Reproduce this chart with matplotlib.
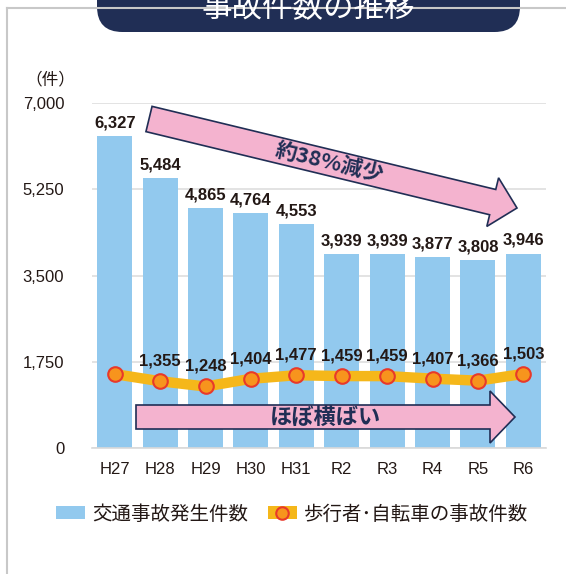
"""
事故件数の推移 — 交通事故発生件数（棒）と歩行者・自転車の事故件数（折れ線）。
出力: out.png
"""

import matplotlib

matplotlib.use("Agg")
import matplotlib.pyplot as plt
import numpy as np
from matplotlib.lines import Line2D
from matplotlib.patches import FancyBboxPatch, Patch, Polygon

plt.rcParams["font.family"] = ["Liberation Sans", "Noto Sans CJK JP", "DejaVu Sans"]

# データ
years = ["H27", "H28", "H29", "H30", "H31", "R2", "R3", "R4", "R5", "R6"]
total_accidents = [6327, 5484, 4865, 4764, 4553, 3939, 3939, 3877, 3808, 3946]
ped_bike_accidents = [1499, 1355, 1248, 1404, 1477, 1459, 1459, 1407, 1366, 1503]
y_ticks = [0, 1750, 3500, 5250, 7000]

W, H = 566, 574
TEXT = "#231815"
NAVY = "#202e55"
BAR = "#92C9EE"
PINK = "#F4B3CF"
JP = ["Noto Sans CJK JP", "DejaVu Sans"]


def px(x, y):
    """ピクセル座標（左上原点）→ figure 座標"""
    return x / W, 1 - y / H


def arrow_poly(tail, tip, half_shaft, half_head, head_len):
    tail, tip = np.array(tail, float), np.array(tip, float)
    d = tip - tail
    d /= np.hypot(*d)
    n = np.array([-d[1], d[0]])
    base = tip - d * head_len
    pts = [tail + n * half_shaft, base + n * half_shaft, base + n * half_head, tip,
           base - n * half_head, base - n * half_shaft, tail - n * half_shaft]
    return [px(*p) for p in pts]


fig = plt.figure(figsize=(W / 100, H / 100), dpi=100)

# 外枠（左・上のみ見える）
fig.add_artist(Line2D([6.5 / W, 6.5 / W], [0, 1 - 8 / H], color="#c8c8c8", lw=1.5,
                      transform=fig.transFigure))
fig.add_artist(Line2D([6.5 / W, 1], [1 - 8 / H, 1 - 8 / H], color="#c8c8c8", lw=1.5,
                      transform=fig.transFigure))

# タイトル帯（上端は切れている）
x0, y0 = px(97, 32)
fig.add_artist(FancyBboxPatch((x0, y0), (520 - 97) / W, 70 / H,
                              boxstyle="round,pad=0,rounding_size=0.045",
                              transform=fig.transFigure, fc=NAVY, ec="none",
                              mutation_aspect=W / H))
fig.text(*px(308, 8), "事故件数の推移", color="white", fontsize=22, family=JP,
         ha="center", va="center")

ax = fig.add_axes([92 / W, 1 - 448 / H, (546 - 92) / W, (448 - 103) / H])
x = np.arange(len(years))

ax.bar(x, total_accidents, width=0.77, color=BAR, zorder=2)
ax.plot(x, ped_bike_accidents, color="#F5B71A", lw=7.5, zorder=3, solid_joinstyle="round")
ax.plot(x, ped_bike_accidents, ls="none", marker="o", ms=10.5, mfc="#F7941D",
        mec="#E8392A", mew=1.5, zorder=4)

for xi, v in zip(x, total_accidents):
    ax.annotate(f"{v:,}", (xi, v), xytext=(0, 4), textcoords="offset points",
                ha="center", va="bottom", fontsize=12, fontweight="bold", color=TEXT)
for xi, v in zip(x, ped_bike_accidents):
    if xi == 0:
        continue
    ax.annotate(f"{v:,}", (xi, v), xytext=(0, 9), textcoords="offset points",
                ha="center", va="bottom", fontsize=12, fontweight="bold", color=TEXT,
                zorder=5)

ax.set_xlim(-0.5, len(years) - 0.5)
ax.set_ylim(0, 7000)
ax.set_xticks(x, years)
ax.set_yticks(y_ticks, [f"{t:,}" for t in y_ticks])
ax.tick_params(length=0, labelsize=12, colors=TEXT)
ax.tick_params(axis="y", pad=20)
ax.tick_params(axis="x", pad=10)
ax.grid(axis="y", color="#dedede", lw=1.2, zorder=0)
for s in ["top", "right", "left"]:
    ax.spines[s].set_visible(False)
ax.spines["bottom"].set_color("#d9d9d9")
ax.spines["bottom"].set_linewidth(1.2)

fig.text(*px(50, 80), "（件）", fontsize=12, family=JP, color=TEXT, ha="center", va="center")

# 矢印
fig.add_artist(Polygon(arrow_poly((149, 119), (517, 208), 13, 25, 25), closed=True,
                       transform=fig.transFigure, fc=PINK, ec=NAVY, lw=1.2, zorder=6))
fig.text(*px(330, 163), "約38%減少", rotation=-13.4, rotation_mode="anchor",
         fontsize=15.5, fontweight="bold", family=JP, color=NAVY, ha="center",
         va="center", zorder=7)
fig.add_artist(Polygon(arrow_poly((136, 417), (515, 417), 12, 26, 25), closed=True,
                       transform=fig.transFigure, fc=PINK, ec=NAVY, lw=1.2, zorder=6))
fig.text(*px(325, 417), "ほぼ横ばい", fontsize=16, fontweight="bold", family=JP,
         color=NAVY, ha="center", va="center", zorder=7)

# 凡例
handles = [Patch(fc=BAR, ec="none"),
           (Patch(fc="#F5B71A", ec="none"),
            Line2D([], [], ls="none", marker="o", ms=9, mfc="#F7941D", mec="#E8392A", mew=1.5))]
fig.legend(handles, ["交通事故発生件数", "歩行者･自転車の事故件数"], ncol=2,
           loc="center", bbox_to_anchor=px(292, 514), frameon=False,
           prop={"family": JP, "size": 14}, labelcolor=TEXT,
           handlelength=1.5, handleheight=0.6, handletextpad=0.35, columnspacing=1.0)

fig.savefig("out.png", dpi=100)
